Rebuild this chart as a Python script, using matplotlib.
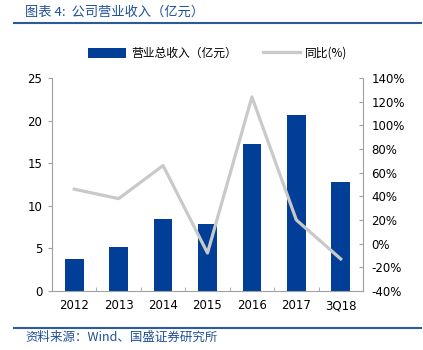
import matplotlib
matplotlib.use('Agg')
import matplotlib.pyplot as plt
import numpy as np

plt.rcParams['font.family'] = ['DejaVu Sans', 'Noto Sans CJK SC']

years = ['2012', '2013', '2014', '2015', '2016', '2017', '3Q18']
revenue = [3.7, 5.1, 8.4, 7.8, 17.3, 20.7, 12.8]
yoy = [46, 38, 66, -8, 124, 20, -13]

bar_color = '#003E97'
line_color = '#C9C9C9'
spine_color = '#A0A0A0'
blue = '#1F4E9A'

fig = plt.figure(figsize=(4.23, 3.5), dpi=100)
ax = fig.add_axes([0.123, 0.169, 0.735, 0.608])
x = np.arange(len(years))
bars = ax.bar(x, revenue, width=0.42, color=bar_color, label='营业总收入（亿元）', zorder=2)
ax.set_xlim(-0.5, len(years) - 0.5)
ax.set_ylim(0, 25)
ax.set_yticks([0, 5, 10, 15, 20, 25])

ax2 = ax.twinx()
line, = ax2.plot(x, yoy, color=line_color, lw=2.3, label='同比(%)', zorder=3)
ax2.set_ylim(-40, 140)
ax2.set_yticks(np.arange(-40, 141, 20))
ax2.set_yticklabels([f'{v}%' for v in range(-40, 141, 20)])

for a in (ax, ax2):
    a.spines['top'].set_visible(False)
    for s in ('left', 'right', 'bottom'):
        a.spines[s].set_color(spine_color)
        a.spines[s].set_linewidth(0.8)
ax.spines['right'].set_visible(False)
ax2.spines['left'].set_visible(False)
ax2.spines['bottom'].set_visible(False)

ax.set_xticks(x)
ax.set_xticklabels(years, fontsize=8.5)
ax.set_xticks(np.arange(0.5, len(years) - 0.5, 1), minor=True)
ax.tick_params(axis='x', which='major', length=0, pad=6)
ax.tick_params(axis='x', which='minor', direction='in', length=3, color=spine_color)
ax.tick_params(axis='y', direction='out', length=3, color=spine_color, labelsize=8.5, pad=4)
ax2.tick_params(axis='y', direction='in', length=3, color=spine_color, labelsize=8.5, pad=6)

fig.legend(handles=[bars, line], loc='center', bbox_to_anchor=(0.515, 0.848), ncol=2,
           frameon=False, handlelength=3.2, handleheight=0.9,
           columnspacing=2.2, handletextpad=0.4,
           prop={'family': ['Noto Sans CJK SC', 'DejaVu Sans'], 'size': 8.5})

fig.text(0.06, 0.965, '图表 4:  公司营业收入（亿元）', color=blue, fontsize=9.5,
         family=['Noto Sans CJK SC', 'DejaVu Sans'], va='center', style='italic')
fig.add_artist(plt.Line2D([0.033, 0.995], [0.934, 0.934], color='#2B5AA0', lw=1.5))
fig.add_artist(plt.Line2D([0.033, 0.995], [0.063, 0.063], color='#2B5AA0', lw=1.5))
fig.text(0.06, 0.035, '资料来源：Wind、国盛证券研究所', color=blue, fontsize=9,
         family=['Noto Sans CJK SC', 'DejaVu Sans'], va='center', style='italic')

fig.savefig('out.png', dpi=100)
